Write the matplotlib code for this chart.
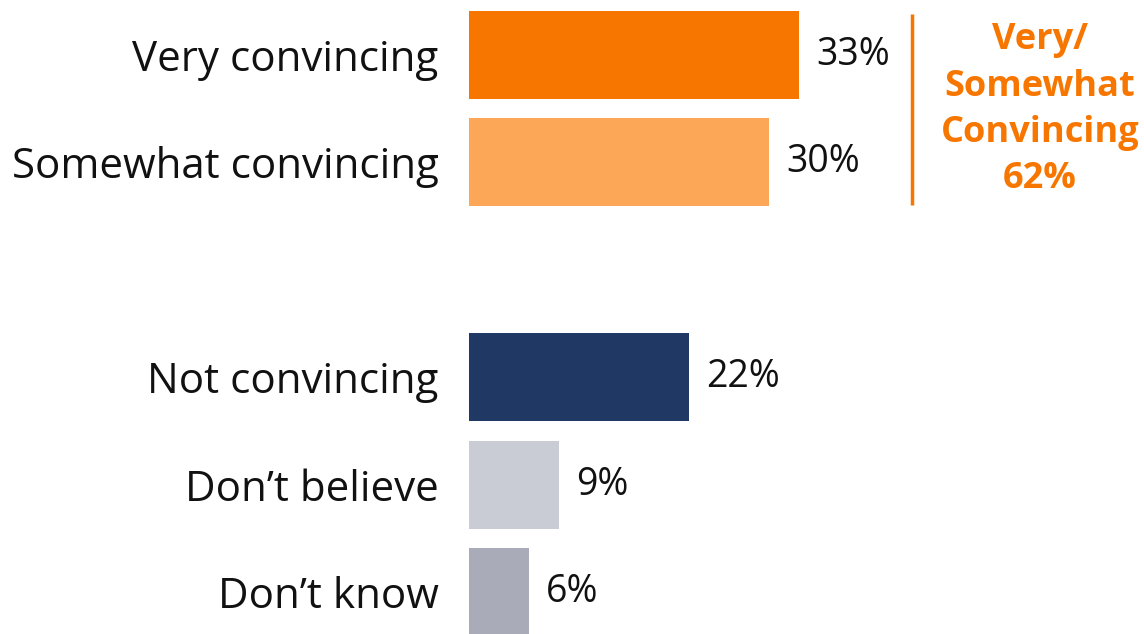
import matplotlib.pyplot as plt

categories = ['Very convincing', 'Somewhat convincing', 'Not convincing', "Don\u2019t believe", "Don\u2019t know"]
values = [33, 30, 22, 9, 6]
positions = [0, 1, 3, 4, 5]
colors = ['#F77600', '#FCA658', '#1F3864', '#C9CCD4', '#AAABB8']
net_label = 'Very/\nSomewhat\nConvincing\n62%'
orange = '#F77600'

plt.rcParams['font.family'] = ['Open Sans', 'DejaVu Sans']

fig = plt.figure(figsize=(11.44, 6.34), dpi=100)
# 10 px per percentage point, bars start at x=469px
ax = fig.add_axes([469 / 1144, 0, 675 / 1144, 1])
ax.set_xlim(0, 67.5)
ax.set_ylim(5.391, -0.512)

ax.barh(positions, values, height=0.82, color=colors)
for p, v in zip(positions, values):
    ax.text(v + 1.7, p, f'{v}%', va='center', ha='left', fontsize=27, color='#111111')

ax.set_yticks(positions)
ax.set_yticklabels(categories, fontsize=30.3, color='#111111')
ax.tick_params(axis='y', length=0, pad=22)
ax.set_xticks([])
for s in ax.spines.values():
    s.set_visible(False)

# bracket for the net score
ax.plot([44.3, 44.3], [-0.38, 1.4], color=orange, lw=2.5, solid_capstyle='butt')
ax.text(57.1, 0.51, net_label, ha='center', va='center', fontsize=26,
        fontweight='bold', color=orange, linespacing=1.38)

fig.savefig('out.png', dpi=100)
